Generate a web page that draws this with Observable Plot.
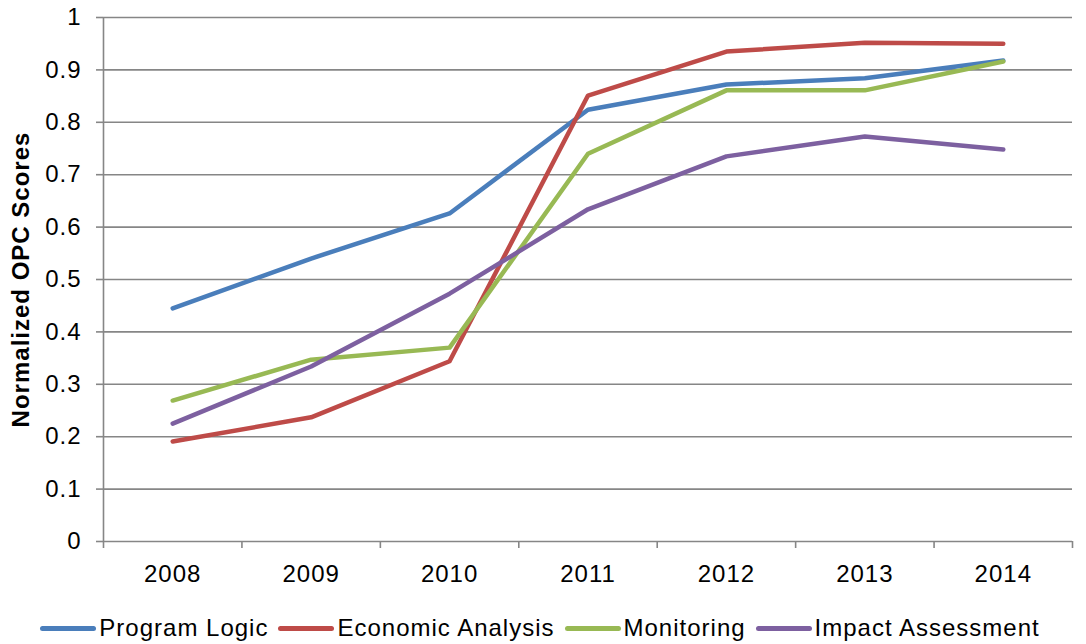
<!DOCTYPE html>
<html>
<head>
<meta charset="utf-8">
<script src="https://cdn.jsdelivr.net/npm/d3@7"></script>
<script src="https://cdn.jsdelivr.net/npm/@observablehq/plot@0.6"></script>
<style>
  body { margin: 0; background: #fff; font-family: "Liberation Sans", Arial, sans-serif; }
  #chart { width: 1086px; }
  .legend { display: flex; justify-content: center; align-items: center; height: 32px; padding-top: 12px; font-size: 24px; letter-spacing: 1px; color: #000; margin-left: -6px; }
  .item { display: flex; align-items: center; margin: 0 5px; }
  .sw { width: 56px; height: 5px; border-radius: 3px; margin-right: 3px; }
</style>
</head>
<body>
<div id="chart"></div>
<script>
const years = [2008, 2009, 2010, 2011, 2012, 2013, 2014];
const seriesNames = ["Program Logic", "Economic Analysis", "Monitoring", "Impact Assessment"];
const colors = ["#4A7EBB", "#BE4B48", "#98B954", "#7D60A0"];
const programLogic = [0.445, 0.540, 0.626, 0.824, 0.872, 0.884, 0.918];
const economicAnalysis = [0.191, 0.237, 0.344, 0.851, 0.935, 0.952, 0.950];
const monitoring = [0.269, 0.347, 0.370, 0.740, 0.861, 0.861, 0.916];
const impactAssessment = [0.225, 0.334, 0.473, 0.634, 0.735, 0.773, 0.748];
const yTicks = [0, 0.1, 0.2, 0.3, 0.4, 0.5, 0.6, 0.7, 0.8, 0.9, 1];

const allSeries = [programLogic, economicAnalysis, monitoring, impactAssessment];
const data = [];
allSeries.forEach((vals, i) => vals.forEach((v, j) => data.push({series: seriesNames[i], year: years[j], value: v})));
const boundaries = d3.range(years.length + 1).map(i => years[0] - 0.5 + i);
const grey = "#868686";

const chart = Plot.plot({
  width: 1086,
  height: 600,
  marginLeft: 103,
  marginRight: 14,
  marginTop: 17,
  marginBottom: 59,
  style: { fontFamily: "'Liberation Sans', Arial, sans-serif", fontSize: "24px", letterSpacing: "1px", color: "#000", background: "#fff" },
  x: { type: "linear", domain: [years[0] - 0.5, years[years.length - 1] + 0.5] },
  y: { domain: [0, 1] },
  color: { domain: seriesNames, range: colors },
  marks: [
    Plot.gridY(yTicks, { stroke: grey, strokeOpacity: 1, strokeWidth: 1.6 }),
    Plot.ruleX([boundaries[0]], { stroke: grey, strokeWidth: 1.6 }),
    Plot.axisY({ ticks: yTicks, tickSize: 7, tickPadding: 15, stroke: grey, strokeWidth: 1.6, tickFormat: d => String(d), label: null, fill: "#000", fontSize: 24 }),
    Plot.axisX({ ticks: boundaries, tickSize: 7, tickFormat: () => "", stroke: grey, strokeWidth: 1.6, label: null }),
    Plot.axisX({ ticks: years, tickSize: 0, tickPadding: 23, tickFormat: d => String(d), label: null, fill: "#000", fontSize: 24 }),
    Plot.text(["Normalized OPC Scores"], { frameAnchor: "left", textAnchor: "middle", dx: -82, rotate: -90, fontWeight: "bold", fontSize: 24, fill: "#000" }),
    Plot.lineY(data, { x: "year", y: "value", z: "series", stroke: "series", strokeWidth: 4.5, strokeLinejoin: "round", strokeLinecap: "round" })
  ]
});
document.getElementById("chart").appendChild(chart);

const legend = document.createElement("div");
legend.className = "legend";
seriesNames.forEach((name, i) => {
  const item = document.createElement("div");
  item.className = "item";
  const sw = document.createElement("div");
  sw.className = "sw";
  sw.style.background = colors[i];
  const t = document.createElement("span");
  t.textContent = name;
  item.appendChild(sw); item.appendChild(t);
  legend.appendChild(item);
});
document.getElementById("chart").appendChild(legend);
</script>
</body>
</html>
